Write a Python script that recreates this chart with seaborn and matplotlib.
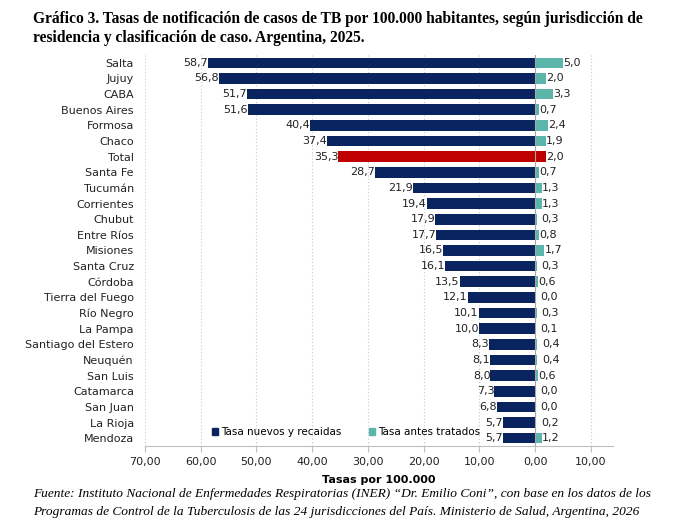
import matplotlib
matplotlib.use("Agg")
import matplotlib.pyplot as plt
import seaborn as sns
import pandas as pd
from matplotlib.patches import Patch
from matplotlib.ticker import FuncFormatter

jurisdicciones = ["Salta", "Jujuy", "CABA", "Buenos Aires", "Formosa", "Chaco", "Total",
                  "Santa Fe", "Tucumán", "Corrientes", "Chubut", "Entre Ríos", "Misiones",
                  "Santa Cruz", "Córdoba", "Tierra del Fuego", "Río Negro", "La Pampa",
                  "Santiago del Estero", "Neuquén", "San Luis", "Catamarca", "San Juan",
                  "La Rioja", "Mendoza"]
nuevos = [58.7, 56.8, 51.7, 51.6, 40.4, 37.4, 35.3, 28.7, 21.9, 19.4, 17.9, 17.7, 16.5,
          16.1, 13.5, 12.1, 10.1, 10.0, 8.3, 8.1, 8.0, 7.3, 6.8, 5.7, 5.7]
antes = [5.0, 2.0, 3.3, 0.7, 2.4, 1.9, 2.0, 0.7, 1.3, 1.3, 0.3, 0.8, 1.7,
         0.3, 0.6, 0.0, 0.3, 0.1, 0.4, 0.4, 0.6, 0.0, 0.0, 0.2, 1.2]
xticks = [-70, -60, -50, -40, -30, -20, -10, 0, 10]

NAVY = "#0A2460"
TEAL = "#5BB5AA"
RED = "#C00000"

df = pd.DataFrame({"j": jurisdicciones, "nuevos": nuevos, "antes": antes})
df["neg"] = -df["nuevos"]
pal_left = {j: (RED if j == "Total" else NAVY) for j in jurisdicciones}
pal_right = {j: (RED if j == "Total" else TEAL) for j in jurisdicciones}

fig = plt.figure(figsize=(6.78, 5.27), dpi=100)
ax = fig.add_axes([145/678, 1-446/527, (613-145)/678, (446-55)/527])

sns.barplot(data=df, x="neg", y="j", hue="j", palette=pal_left, orient="h", saturation=1,
            width=0.68, legend=False, ax=ax, order=jurisdicciones, hue_order=jurisdicciones)
sns.barplot(data=df, x="antes", y="j", hue="j", palette=pal_right, orient="h", saturation=1,
            width=0.68, legend=False, ax=ax, order=jurisdicciones, hue_order=jurisdicciones)

ax.set_xlim(-70, 14)
ax.set_ylim(len(jurisdicciones) - 0.5, -0.5)
ax.set_xticks(xticks)
ax.xaxis.set_major_formatter(FuncFormatter(lambda v, p: f"{abs(v):.2f}".replace(".", ",")))
ax.grid(axis="x", color="#C8C8C8", linestyle=(0, (1, 2)), linewidth=0.8)
ax.set_axisbelow(True)
for s in ["top", "right", "left"]:
    ax.spines[s].set_visible(False)
ax.spines["bottom"].set_color("#BFBFBF")
ax.axvline(0, color="#A6A6A6", linewidth=0.8, zorder=1)
ax.tick_params(axis="x", length=4, color="#BFBFBF", labelsize=8, labelcolor="#222222", pad=4)
ax.tick_params(axis="y", length=0, labelsize=8, labelcolor="#222222", pad=8)
ax.set_ylabel("")
ax.set_xlabel("Tasas por 100.000", fontsize=8, fontweight="bold", labelpad=6)

for i, (n, a) in enumerate(zip(nuevos, antes)):
    ax.text(-n, i, f"{n:.1f}".replace(".", ","), ha="right", va="center", fontsize=8, color="#222222")
    ax.text(a + 0.9 if a < 0.6 else a, i, f"{a:.1f}".replace(".", ","),
            ha="left", va="center", fontsize=8, color="#222222")

handles = [Patch(color=NAVY, label="Tasa nuevos y recaidas"), Patch(color=TEAL, label="Tasa antes tratados")]
ax.legend(handles=handles, loc="center", bbox_to_anchor=(0.43, 0.036), ncol=2, frameon=False,
          fontsize=7.5, handlelength=0.6, handleheight=0.6, handletextpad=0.3, columnspacing=2.6,
          borderpad=0, borderaxespad=0)

fig.text(33/678, 1-19/527, "Gráfico 3. Tasas de notificación de casos de TB por 100.000 habitantes, según jurisdicción de",
         fontsize=11.2, fontweight="bold", family="Liberation Serif", va="center", ha="left")
fig.text(33/678, 1-38/527, "residencia y clasificación de caso. Argentina, 2025.",
         fontsize=11.2, fontweight="bold", family="Liberation Serif", va="center", ha="left")
fig.text(33/678, 1-494/527, "Fuente: Instituto Nacional de Enfermedades Respiratorias (INER) “Dr. Emilio Coni”, con base en los datos de los",
         fontsize=9.6, style="italic", family="Liberation Serif", va="center", ha="left")
fig.text(33/678, 1-512/527, "Programas de Control de la Tuberculosis de las 24 jurisdicciones del País. Ministerio de Salud, Argentina, 2026",
         fontsize=9.6, style="italic", family="Liberation Serif", va="center", ha="left")

fig.savefig("out.png", dpi=100)
